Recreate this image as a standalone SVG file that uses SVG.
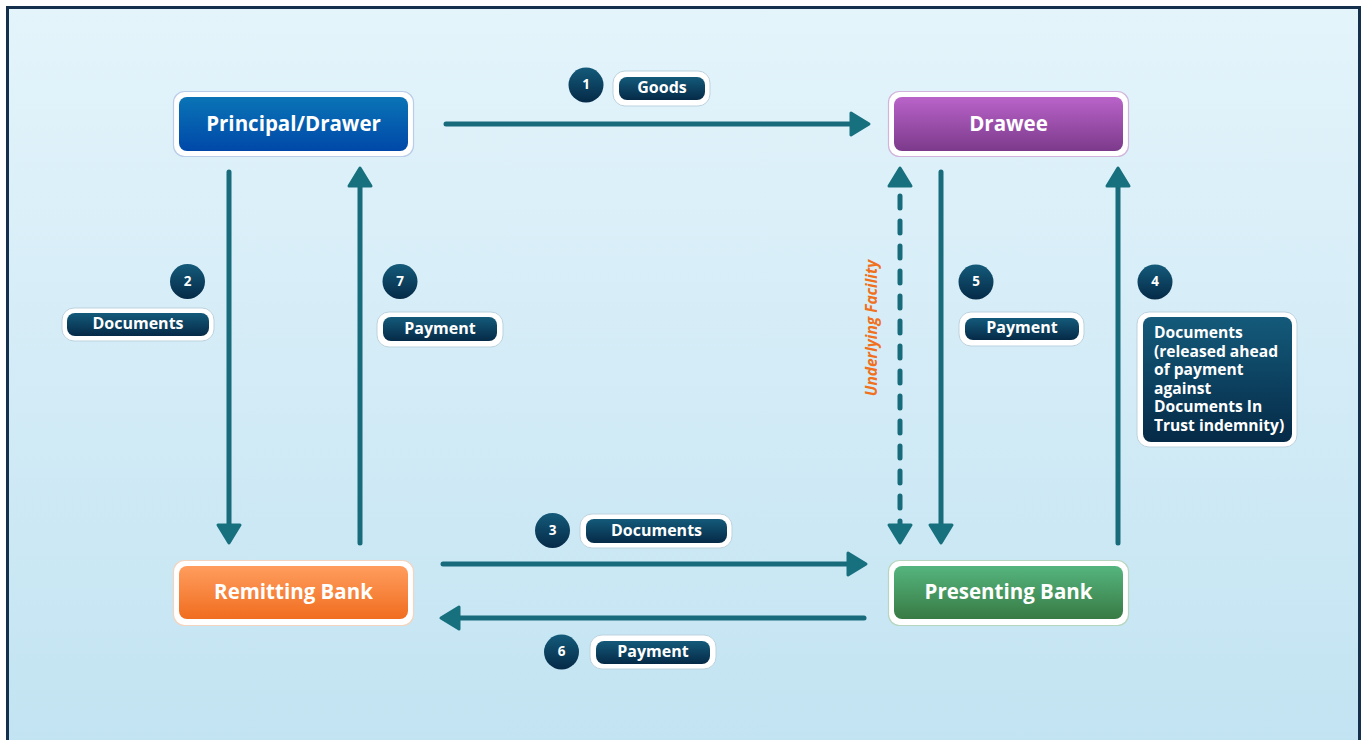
<svg xmlns="http://www.w3.org/2000/svg" width="1365" height="740" viewBox="0 0 1365 740">
<defs>
<linearGradient id="bg" x1="0" y1="0" x2="0" y2="1"><stop offset="0" stop-color="#e4f4fb"/><stop offset="1" stop-color="#c2e3f2"/></linearGradient>
<linearGradient id="gBlue" x1="0" y1="0" x2="0" y2="1"><stop offset="0" stop-color="#0a74b6"/><stop offset="1" stop-color="#0048a8"/></linearGradient>
<linearGradient id="gPurple" x1="0" y1="0" x2="0" y2="1"><stop offset="0" stop-color="#b963c9"/><stop offset="1" stop-color="#7c3a8b"/></linearGradient>
<linearGradient id="gOrange" x1="0" y1="0" x2="0" y2="1"><stop offset="0" stop-color="#ff9d5e"/><stop offset="1" stop-color="#f06d1f"/></linearGradient>
<linearGradient id="gGreen" x1="0" y1="0" x2="0" y2="1"><stop offset="0" stop-color="#55b57e"/><stop offset="1" stop-color="#387a44"/></linearGradient>
<linearGradient id="gNavy" x1="0" y1="0" x2="0" y2="1"><stop offset="0" stop-color="#145a7a"/><stop offset="1" stop-color="#052a47"/></linearGradient>
<marker id="ah" viewBox="-3 -15 24 30" markerWidth="24" markerHeight="30" refX="15" refY="0" orient="auto-start-reverse" markerUnits="userSpaceOnUse">
<path d="M0,-11 L18,0 L0,11 Z" fill="#17707e" stroke="#17707e" stroke-width="3" stroke-linejoin="round"/>
</marker>
<style>
.node-out{fill:#ffffff;stroke-width:1.2}
.node-txt{font-family:"Open Sans","Noto Sans",sans-serif;font-weight:700;font-size:20.5px;fill:#ffffff;text-anchor:middle;dominant-baseline:central}
.conn{fill:none;stroke:#176b7a;stroke-width:5;stroke-linecap:round}
.dash{stroke-dasharray:12 13}
.pill-out{fill:#ffffff;stroke:#bcd3df;stroke-width:1}
.pill-in{fill:url(#gNavy)}
.pill-txt{font-family:"Open Sans","Noto Sans",sans-serif;font-weight:700;font-size:16px;fill:#ffffff;text-anchor:middle;dominant-baseline:central}
.badge{fill:url(#gNavy)}
.badge-txt{font-family:"Open Sans","Noto Sans",sans-serif;font-weight:700;font-size:13.5px;fill:#ffffff;text-anchor:middle;dominant-baseline:central}
.box-txt{font-family:"Open Sans","Noto Sans",sans-serif;font-weight:700;font-size:15.6px;fill:#ffffff}
.uf{font-family:"Open Sans","Noto Sans",sans-serif;font-weight:700;font-style:italic;font-size:15.5px;fill:#f07020;text-anchor:middle;dominant-baseline:central}
</style>
</defs>
<rect x="0" y="0" width="1365" height="740" fill="#ffffff"/>
<rect x="7.5" y="7.5" width="1352" height="745" fill="url(#bg)" stroke="#15304d" stroke-width="3"/>

<g id="connectors">
<line class="conn" x1="446" y1="124" x2="866" y2="124" marker-end="url(#ah)"/>
<line class="conn" x1="229" y1="172" x2="229" y2="540" marker-end="url(#ah)"/>
<line class="conn" x1="360" y1="543" x2="360" y2="171" marker-end="url(#ah)"/>
<line class="conn dash" x1="900" y1="171" x2="900" y2="540" marker-start="url(#ah)" marker-end="url(#ah)"/>
<line class="conn" x1="941" y1="172" x2="941" y2="540" marker-end="url(#ah)"/>
<line class="conn" x1="1118" y1="543" x2="1118" y2="171" marker-end="url(#ah)"/>
<line class="conn" x1="443" y1="564" x2="863" y2="564" marker-end="url(#ah)"/>
<line class="conn" x1="864" y1="618" x2="444" y2="618" marker-end="url(#ah)"/>
<text class="uf" transform="translate(871,328) rotate(-90)">Underlying Facility</text>
</g>

<g id="node-principal">
<rect class="node-out" x="173.5" y="91.5" width="240" height="65" rx="11" stroke="#b9cde8"/>
<rect x="179" y="97" width="229" height="54" rx="8" fill="url(#gBlue)"/>
<text class="node-txt" x="293.5" y="122.5">Principal/Drawer</text>
</g>
<g id="node-drawee">
<rect class="node-out" x="888.5" y="91.5" width="240" height="65" rx="11" stroke="#d2b3dc"/>
<rect x="894" y="97" width="229" height="54" rx="8" fill="url(#gPurple)"/>
<text class="node-txt" x="1008.5" y="122.5">Drawee</text>
</g>
<g id="node-remitting">
<rect class="node-out" x="173.5" y="560.5" width="240" height="65" rx="11" stroke="#f2d4bf"/>
<rect x="179" y="566" width="229" height="53" rx="8" fill="url(#gOrange)"/>
<text class="node-txt" x="293.5" y="590.5">Remitting Bank</text>
</g>
<g id="node-presenting">
<rect class="node-out" x="888.5" y="560.5" width="240" height="65" rx="11" stroke="#b6d6bf"/>
<rect x="894" y="566" width="229" height="53" rx="8" fill="url(#gGreen)"/>
<text class="node-txt" x="1008.5" y="590.5">Presenting Bank</text>
</g>

<g id="label-1">
<circle class="badge" cx="586" cy="85" r="17.5"/>
<text class="badge-txt" x="586" y="84">1</text>
<rect class="pill-out" x="613" y="71" width="97" height="35" rx="12"/>
<rect class="pill-in" x="619" y="77" width="86" height="23" rx="8"/>
<text class="pill-txt" x="662" y="87">Goods</text>
</g>
<g id="label-2">
<circle class="badge" cx="187.5" cy="281.5" r="17.5"/>
<text class="badge-txt" x="187.5" y="280.5">2</text>
<rect class="pill-out" x="62" y="308" width="152" height="33" rx="12"/>
<rect class="pill-in" x="67" y="313" width="142" height="23" rx="8"/>
<text class="pill-txt" x="138" y="323">Documents</text>
</g>
<g id="label-7">
<circle class="badge" cx="400" cy="281.5" r="17.5"/>
<text class="badge-txt" x="400" y="280.5">7</text>
<rect class="pill-out" x="377" y="312" width="126" height="35" rx="12"/>
<rect class="pill-in" x="383" y="317" width="114" height="24" rx="8"/>
<text class="pill-txt" x="440" y="327.5">Payment</text>
</g>
<g id="label-5">
<circle class="badge" cx="976" cy="282" r="17.5"/>
<text class="badge-txt" x="976" y="281">5</text>
<rect class="pill-out" x="959" y="312" width="125" height="34" rx="12"/>
<rect class="pill-in" x="965" y="318" width="114" height="22" rx="8"/>
<text class="pill-txt" x="1022" y="327">Payment</text>
</g>
<g id="label-4">
<circle class="badge" cx="1155" cy="282" r="17.5"/>
<text class="badge-txt" x="1155" y="281">4</text>
<rect class="pill-out" x="1137" y="312" width="160" height="135" rx="12"/>
<rect class="pill-in" x="1143" y="317" width="149" height="125" rx="8"/>
<text class="box-txt" x="1154" y="337">
<tspan x="1154" y="338">Documents</tspan>
<tspan x="1154" y="356.5">(released ahead</tspan>
<tspan x="1154" y="375">of payment</tspan>
<tspan x="1154" y="393.5">against</tspan>
<tspan x="1154" y="412">Documents In</tspan>
<tspan x="1154" y="430.5">Trust indemnity)</tspan>
</text>
</g>
<g id="label-3">
<circle class="badge" cx="552.5" cy="530.5" r="17.5"/>
<text class="badge-txt" x="552.5" y="529.5">3</text>
<rect class="pill-out" x="580" y="514" width="152" height="34" rx="12"/>
<rect class="pill-in" x="586" y="519" width="141" height="24" rx="8"/>
<text class="pill-txt" x="656.5" y="529.5">Documents</text>
</g>
<g id="label-6">
<circle class="badge" cx="561.5" cy="652" r="17.5"/>
<text class="badge-txt" x="561.5" y="651">6</text>
<rect class="pill-out" x="590" y="635" width="126" height="34" rx="12"/>
<rect class="pill-in" x="596" y="641" width="114" height="23" rx="8"/>
<text class="pill-txt" x="653" y="651">Payment</text>
</g>
</svg>
